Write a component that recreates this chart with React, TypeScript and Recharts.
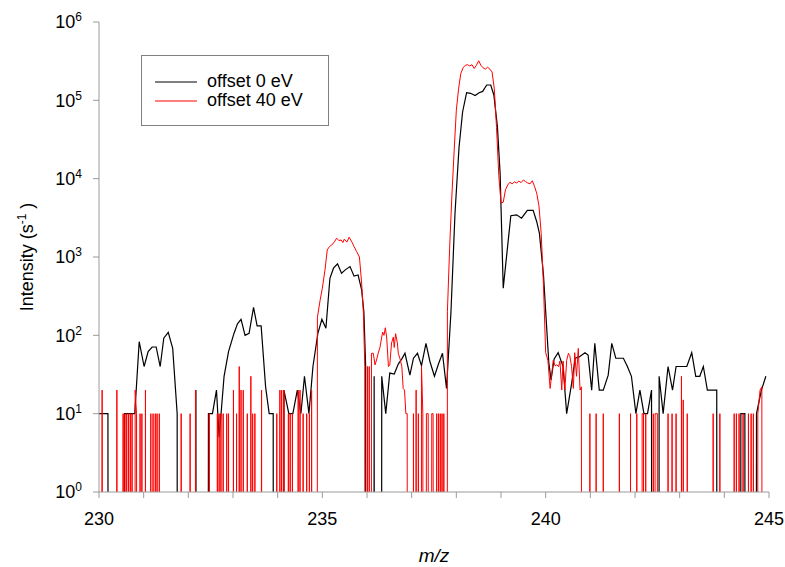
import React from 'react';
import { LineChart, Line, XAxis, YAxis } from 'recharts';

const FONT = '"Liberation Sans", Arial, Helvetica, sans-serif';
const AXIS_GREY = '#9a9a9a';

// m/z ticks, labelled every 5
const mzTicks = [230, 231, 232, 233, 234, 235, 236, 237, 238, 239, 240, 241, 242, 243, 244, 245];
const intensityTicks = [1, 10, 100, 1000, 10000, 100000, 1000000];

// zero counts can't sit on a log axis, so they are pushed far below the frame (and clipped)
const LOG_FLOOR = 1e-30;

// offset 0 eV, [m/z, intensity s^-1]
const black230: [number, number][] = [
  [230.0, 10], [230.2, 10], [230.24, 0], [230.53, 0], [230.57, 10], [230.8, 10], [230.9, 83],
  [231.01, 40], [231.1, 62], [231.19, 71], [231.28, 71], [231.37, 40], [231.45, 92], [231.55, 109],
  [231.65, 68], [231.75, 10], [231.78, 0], [232.14, 0], [232.17, 20], [232.2, 0], [232.41, 0],
  [232.45, 10], [232.54, 10], [232.63, 20], [232.69, 5], [232.8, 30], [232.9, 62], [233.02, 105],
  [233.1, 140], [233.18, 160], [233.27, 100], [233.36, 106], [233.46, 228], [233.54, 132],
  [233.63, 132], [233.73, 22], [233.81, 10], [233.9, 10], [233.93, 0], [234.11, 0], [234.14, 20],
  [234.25, 10], [234.34, 10], [234.44, 20], [234.52, 10], [234.6, 30], [234.7, 10], [234.79, 40],
];
const black235: [number, number][] = [
  [234.9, 106], [234.99, 160], [235.08, 123], [235.17, 535], [235.25, 720], [235.34, 820],
  [235.43, 620], [235.52, 690], [235.62, 755], [235.71, 570], [235.8, 590], [235.88, 380],
  [235.93, 200], [235.97, 40], [236.0, 0],
];
const black236: [number, number][] = [
  [236.13, 0], [236.16, 30], [236.19, 0], [236.3, 0], [236.33, 30], [236.42, 10], [236.51, 33],
  [236.61, 32], [236.7, 43], [236.78, 50], [236.85, 59], [236.96, 31], [237.04, 51], [237.13, 59],
  [237.22, 41], [237.32, 79], [237.41, 46], [237.51, 30], [237.6, 43], [237.69, 59], [237.78, 21],
];
const black238: [number, number][] = [
  [237.88, 200], [237.97, 3600], [238.06, 25000], [238.14, 71000], [238.23, 125000],
  [238.32, 123000], [238.42, 115000], [238.51, 125000], [238.59, 130000], [238.68, 157000],
  [238.77, 157000], [238.84, 117000], [238.92, 46000], [238.98, 11700], [239.05, 400],
  [239.22, 3370], [239.35, 3450], [239.46, 3130], [239.59, 3930], [239.72, 3930], [239.8, 2820],
  [239.86, 2000], [239.95, 600], [240.07, 45],
];
const black240: [number, number][] = [
  [240.12, 27], [240.19, 50], [240.28, 60], [240.39, 40], [240.47, 10], [240.58, 24], [240.66, 51],
  [240.75, 53], [240.88, 60], [240.95, 56], [241.03, 20], [241.1, 79], [241.2, 20], [241.29, 20],
  [241.4, 31], [241.48, 79], [241.57, 51], [241.74, 51], [241.83, 40], [241.92, 30], [242.02, 10],
  [242.11, 20], [242.2, 10], [242.28, 10], [242.37, 20], [242.4, 0], [242.51, 0], [242.54, 30],
  [242.63, 10], [242.74, 40], [242.84, 20], [242.92, 40], [243.16, 40], [243.27, 60], [243.36, 30],
  [243.45, 30], [243.53, 40], [243.62, 20], [243.83, 20], [243.86, 0], [244.34, 0], [244.37, 10],
  [244.46, 10], [244.49, 0], [244.68, 0], [244.72, 10], [244.83, 20], [244.93, 30],
];

// offset 40 eV
const red230: [number, number][] = [
  [230.0, 0], [230.07, 20], [230.12, 0], [230.36, 0], [230.4, 20], [230.44, 0], [230.52, 0],
  [230.54, 10], [230.56, 0], [230.58, 10], [230.6, 0], [230.62, 10], [230.64, 0], [230.66, 10],
  [230.68, 0], [230.7, 10], [230.72, 0], [230.74, 10], [230.77, 0], [230.81, 20], [230.84, 10],
  [230.87, 0], [230.92, 10], [230.94, 0], [230.96, 10], [231.0, 0], [231.04, 20], [231.08, 0],
  [231.16, 10], [231.18, 0], [231.21, 10], [231.23, 0], [231.26, 10], [231.28, 0], [231.3, 10],
  [231.32, 0], [231.35, 10], [231.38, 0], [231.8, 0], [231.84, 10], [231.88, 0], [232.0, 0],
  [232.04, 10], [232.08, 0], [232.13, 0], [232.16, 20], [232.19, 0], [232.44, 0], [232.47, 10],
  [232.5, 0], [232.63, 0], [232.65, 10], [232.67, 0], [232.69, 10], [232.71, 0], [232.73, 10],
  [232.75, 0], [232.78, 10], [232.82, 0], [232.86, 10], [232.88, 0], [232.9, 10], [232.95, 0],
  [233.01, 20], [233.05, 0], [233.08, 10], [233.11, 0], [233.14, 40], [233.16, 0], [233.18, 20],
  [233.2, 0], [233.23, 20], [233.27, 0], [233.32, 10], [233.36, 0], [233.4, 30], [233.42, 0],
  [233.44, 10], [233.46, 0], [233.49, 10], [233.53, 0], [233.64, 20], [233.68, 0], [233.95, 0],
  [233.98, 10], [234.01, 0], [234.05, 20], [234.07, 0], [234.09, 20], [234.11, 0], [234.14, 20],
  [234.18, 0], [234.24, 10], [234.26, 0], [234.28, 10], [234.3, 0], [234.33, 10], [234.37, 0],
  [234.46, 20], [234.48, 0], [234.5, 20], [234.53, 0], [234.57, 10], [234.61, 0], [234.65, 10],
  [234.68, 0], [234.71, 10], [234.73, 0], [234.76, 20], [234.8, 0], [234.86, 0],
];
const red235: [number, number][] = [
  [234.89, 170], [234.95, 280], [235.0, 400], [235.06, 685], [235.11, 1230], [235.16, 1360],
  [235.21, 1420], [235.27, 1560], [235.32, 1740], [235.37, 1620], [235.42, 1650], [235.46, 1530],
  [235.49, 1690], [235.55, 1550], [235.6, 1790], [235.66, 1560], [235.71, 1360], [235.77, 1170],
  [235.83, 1000], [235.88, 465], [235.92, 190], [235.95, 40], [235.98, 0],
];
const red236: [number, number][] = [
  [236.01, 40], [236.03, 0], [236.05, 40], [236.08, 0], [236.1, 59], [236.14, 59], [236.18, 42],
  [236.22, 50], [236.25, 59], [236.29, 70], [236.33, 95], [236.35, 110], [236.38, 100],
  [236.41, 125], [236.44, 95], [236.48, 40], [236.51, 42], [236.55, 80], [236.59, 95], [236.61, 70],
  [236.64, 105], [236.68, 80], [236.7, 59], [236.74, 50], [236.78, 40], [236.81, 21], [236.84, 20],
  [236.87, 10], [236.9, 10], [236.92, 0], [237.02, 0], [237.04, 10], [237.07, 0], [237.1, 20],
  [237.12, 0], [237.15, 10], [237.17, 0], [237.2, 0], [237.22, 40], [237.25, 10], [237.28, 0],
  [237.33, 10], [237.37, 10], [237.4, 0], [237.45, 10], [237.48, 10], [237.52, 0], [237.56, 10],
  [237.58, 0], [237.6, 10], [237.62, 0], [237.64, 10], [237.66, 0], [237.68, 10], [237.7, 0],
  [237.72, 10], [237.75, 0],
];
const red238: [number, number][] = [
  [237.78, 0], [237.8, 200], [237.85, 1300], [237.9, 6000], [237.95, 22000], [238.0, 75000],
  [238.05, 140000], [238.1, 220000], [238.15, 260000], [238.2, 280000], [238.25, 285000],
  [238.3, 275000], [238.35, 285000], [238.4, 255000], [238.45, 280000], [238.5, 320000],
  [238.55, 280000], [238.6, 260000], [238.65, 250000], [238.7, 265000], [238.75, 250000],
  [238.8, 230000], [238.85, 140000], [238.9, 45000], [238.95, 11000], [239.0, 4900], [239.05, 5000],
  [239.1, 7200], [239.15, 8300], [239.2, 9000], [239.25, 8600], [239.3, 9100], [239.35, 8800],
  [239.4, 9300], [239.45, 8900], [239.5, 9600], [239.55, 9200], [239.6, 8800], [239.65, 8600],
  [239.7, 9400], [239.75, 8000], [239.8, 6500], [239.85, 4500], [239.9, 2000], [239.95, 450],
  [240.0, 60], [240.05, 48], [240.1, 21], [240.13, 30], [240.17, 48], [240.21, 41], [240.25, 42],
  [240.29, 40], [240.32, 47], [240.36, 20], [240.39, 47], [240.43, 20], [240.47, 48], [240.51, 59],
  [240.54, 55], [240.58, 40], [240.62, 21], [240.65, 60], [240.69, 30], [240.73, 68], [240.77, 20],
  [240.8, 22], [240.83, 0],
];
const red241: [number, number][] = [
  [240.97, 0], [240.99, 10], [241.01, 0], [241.11, 0], [241.13, 10], [241.15, 0], [241.27, 0],
  [241.29, 10], [241.31, 0], [241.63, 0], [241.65, 10], [241.67, 0], [241.88, 0], [241.9, 10],
  [241.92, 0], [242.02, 0], [242.04, 10], [242.06, 0], [242.14, 0], [242.16, 10], [242.19, 10],
  [242.22, 0], [242.24, 10], [242.26, 0], [242.39, 0], [242.41, 10], [242.43, 0], [242.45, 10],
  [242.5, 10], [242.52, 0], [242.72, 0], [242.74, 10], [242.77, 0], [242.83, 10], [242.86, 0],
  [242.92, 10], [242.95, 0], [243.02, 0], [243.04, 30], [243.06, 0], [243.08, 15], [243.1, 0],
  [243.15, 0], [243.17, 10], [243.19, 0], [243.73, 0], [243.75, 10], [243.77, 0], [243.88, 0],
  [243.9, 10], [243.92, 0], [244.2, 0], [244.22, 10], [244.24, 0], [244.27, 10], [244.3, 0],
  [244.33, 10], [244.36, 0], [244.42, 10], [244.45, 0], [244.52, 0], [244.54, 10], [244.57, 0],
  [244.6, 10], [244.62, 0], [244.65, 10], [244.7, 0], [244.75, 10], [244.8, 20], [244.84, 22],
  [244.87, 0],
];

const toRows = (parts: [number, number][][]) =>
  parts.flat().map(([mz, v]) => ({ mz, intensity: v > 0 ? v : LOG_FLOOR }));

const blackRows = toRows([black230, black235, black236, black238, black240]);
const redRows = toRows([red230, red235, red236, red238, red241]);

const YTick = (props: any) => {
  const { x, y, payload } = props;
  const exp = Math.round(Math.log10(payload.value));
  return (
    <text x={x} y={y} textAnchor="end" fontFamily={FONT} fontSize={18} fill="#000">
      <tspan dy="0.36em">10</tspan>
      <tspan dy={-7} fontSize={12}>{exp}</tspan>
    </text>
  );
};

const YLabel = () => (
  <text
    x={33}
    y={257}
    transform="rotate(-90, 33, 257)"
    textAnchor="middle"
    fontFamily={FONT}
    fontSize={18}
    fill="#000"
  >
    Intensity (s
    <tspan dy={-7} fontSize={12}>-1</tspan>
    <tspan dy={7}> )</tspan>
  </text>
);

const XLabel = () => (
  <text x={434} y={562} textAnchor="middle" fontFamily={FONT} fontSize={19} fontStyle="italic" fill="#000">
    m/z
  </text>
);

const Legend = () => (
  <div style={{ position: 'absolute', left: 141, top: 55 }}>
    <svg width={188} height={71}>
      <rect x={0.5} y={0.5} width={187} height={70} fill="#fff" stroke="#808080" />
      <line x1={14} x2={56} y1={27} y2={27} stroke="#000" strokeWidth={1.2} />
      <text x={66} y={32} fontFamily={FONT} fontSize={18} fill="#000">offset 0 eV</text>
      <line x1={14} x2={56} y1={46} y2={46} stroke="#ff0000" strokeWidth={1.2} />
      <text x={66} y={51} fontFamily={FONT} fontSize={18} fill="#000">offset 40 eV</text>
    </svg>
  </div>
);

export default function App() {
  return (
    <div style={{ position: 'absolute', left: 0, top: 0, width: 785, height: 567, background: '#fff' }}>
      <LineChart width={785} height={567} margin={{ top: 22, right: 16, bottom: 35, left: 19 }}>
        <XAxis
          dataKey="mz"
          type="number"
          domain={[230, 245]}
          ticks={mzTicks}
          allowDataOverflow
          interval={0}
          height={40}
          stroke={AXIS_GREY}
          tickSize={6}
          tickMargin={14}
          tick={{ fontFamily: FONT, fontSize: 18, fill: '#000' }}
          tickFormatter={(v: number) => (v % 5 === 0 ? String(v) : '')}
          label={<XLabel />}
        />
        <XAxis
          xAxisId="top"
          orientation="top"
          type="number"
          domain={[230, 245]}
          height={0}
          tick={false}
          tickLine={false}
          stroke="#707070"
        />
        <YAxis
          dataKey="intensity"
          scale="log"
          type="number"
          domain={[1, 1000000]}
          ticks={intensityTicks}
          allowDataOverflow
          interval={0}
          width={80}
          stroke={AXIS_GREY}
          tickSize={6}
          tickMargin={11}
          tick={<YTick />}
          label={<YLabel />}
        />
        <YAxis
          yAxisId="right"
          orientation="right"
          type="number"
          domain={[0, 1]}
          width={0}
          tick={false}
          tickLine={false}
          stroke={AXIS_GREY}
        />
        <Line
          data={blackRows}
          dataKey="intensity"
          stroke="#000"
          strokeWidth={1.2}
          dot={false}
          activeDot={false}
          isAnimationActive={false}
        />
        <Line
          data={redRows}
          dataKey="intensity"
          stroke="#ff0000"
          strokeWidth={1}
          dot={false}
          activeDot={false}
          isAnimationActive={false}
        />
      </LineChart>
      <Legend />
    </div>
  );
}
